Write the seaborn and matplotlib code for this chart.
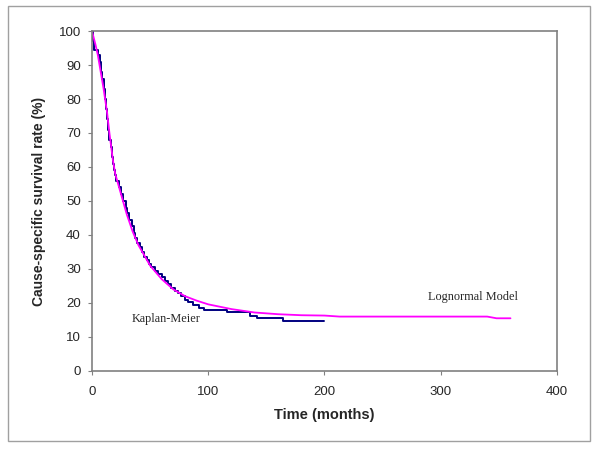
import matplotlib
matplotlib.use("Agg")
import matplotlib.pyplot as plt
from matplotlib.patches import Rectangle
import seaborn as sns
import pandas as pd

# Kaplan-Meier estimate (step function, months vs %)
km_months = [0, 1, 2, 5, 7, 8, 9, 10, 11, 12, 13, 14, 15, 16, 17, 18, 19, 20, 21,
             23, 25, 27, 29, 30, 32, 34, 36, 37, 39, 41, 43, 45, 47, 49, 51, 54,
             57, 60, 63, 65, 68, 71, 74, 77, 80, 83, 87, 92, 96, 116, 136, 142,
             164, 200]
km_surv = [100, 97, 94.5, 93, 91, 88, 86, 83, 80, 77, 74, 71, 68, 66, 63, 61, 59,
           57.5, 56, 54, 52, 50, 48, 46.5, 44.5, 42.5, 40.5, 39, 37.5, 36.5, 35,
           33.5, 32.5, 31.5, 30.5, 29.5, 28.5, 27.5, 26.5, 25.5, 24.5, 23.5, 23,
           22, 21, 20.3, 19.5, 18.5, 18, 17.3, 16.3, 15.5, 14.8, 14.8]

# Lognormal model fit
ln_months = [0, 3, 5, 8, 10, 13, 15, 18, 20, 25, 30, 35, 40, 45, 50, 60, 70, 80,
             90, 100, 120, 140, 160, 180, 200, 213, 340, 348, 360]
ln_surv = [100, 96, 93, 87, 83, 76, 70, 62, 58, 52, 46, 41, 37, 34, 31, 27, 24, 22,
           20.7, 19.6, 18.2, 17.2, 16.7, 16.4, 16.3, 16.0, 16.0, 15.5, 15.5]

km = pd.DataFrame({"month": km_months, "surv": km_surv})
lognorm = pd.DataFrame({"month": ln_months, "surv": ln_surv})

sns.set_style("white")
plt.rcParams["font.family"] = ["Liberation Sans", "DejaVu Sans"]

fig = plt.figure(figsize=(6, 4.5), dpi=100)
ax = fig.add_axes([0.1533, 0.1756, 0.775, 0.7555])

sns.lineplot(data=km, x="month", y="surv", ax=ax, color="#000080", lw=1.4,
             drawstyle="steps-post", estimator=None, sort=False)
sns.lineplot(data=lognorm, x="month", y="surv", ax=ax, color="#ff00ff", lw=1.3,
             estimator=None, sort=False)

ax.set_xlim(0, 400)
ax.set_ylim(0, 100)
ax.set_xticks(range(0, 401, 100))
ax.set_yticks(range(0, 101, 10))
ax.tick_params(axis="both", labelsize=9.5, length=3, color="#808080",
               direction="out", bottom=True, left=True)
ax.tick_params(axis="x", pad=8)
ax.tick_params(axis="y", pad=5)
for s in ax.spines.values():
    s.set_color("#808080")
    s.set_linewidth(1.2)

ax.set_xlabel("Time (months)", fontsize=10.5, fontweight="bold", labelpad=7)
ax.set_ylabel("Cause-specific survival rate (%)", fontsize=10, fontweight="bold", labelpad=9)

ax.text(34, 15.3, "Kaplan-Meier", fontsize=8.8, family="Liberation Serif", va="center")
ax.text(289, 21.8, "Lognormal Model", fontsize=8.8, family="Liberation Serif", va="center")

fig.patches.append(Rectangle((8 / 600, 9 / 450), 582 / 600, 435 / 450,
                             transform=fig.transFigure, fill=False,
                             edgecolor="#a0a0a0", lw=1))

fig.savefig("out.png", dpi=100)
